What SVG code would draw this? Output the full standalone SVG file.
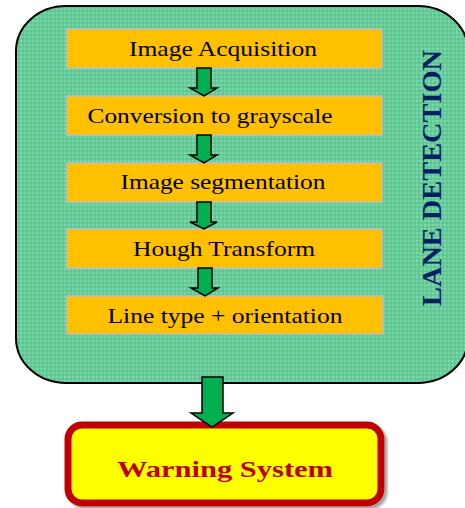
<svg xmlns="http://www.w3.org/2000/svg" width="465" height="508" viewBox="0 0 465 508">
  <defs>
    <!-- fine dotted texture for the lane detection panel -->
    <pattern id="dots" width="4" height="4" patternUnits="userSpaceOnUse">
      <rect width="4" height="4" fill="#66cc99"/>
      <rect x="0" y="0" width="2" height="2" fill="#7ed6a8"/>
      <rect x="2" y="2" width="2" height="2" fill="#5cc491"/>
    </pattern>
    <filter id="shadow" x="-10%" y="-10%" width="120%" height="130%">
      <feDropShadow dx="3" dy="3" stdDeviation="1" flood-color="#808080" flood-opacity="0.7"/>
    </filter>
  </defs>
  <style>
    .step rect { fill: #ffc000; stroke: #c0c0c0; stroke-width: 1.5; }
    .step text { font-family: "Liberation Serif", "Times New Roman", serif; font-size: 21px; fill: #000; text-anchor: middle; }
    .arrow { fill: #00b050; stroke: #000; stroke-width: 1.5; stroke-linejoin: miter; }
  </style>

  <rect width="465" height="508" fill="#ffffff"/>

  <!-- lane detection container -->
  <g id="lane-detection">
    <rect x="16" y="6" width="452" height="377" rx="50" ry="45" fill="url(#dots)" stroke="#000" stroke-width="2"/>
    <text x="441" y="178" transform="rotate(-90 441 178)" text-anchor="middle" font-family="Liberation Serif, Times New Roman, serif" font-weight="bold" font-size="28" fill="#002060" textLength="256" lengthAdjust="spacingAndGlyphs">LANE DETECTION</text>
  </g>

  <!-- processing steps -->
  <g id="step-acquisition" class="step">
    <rect x="67" y="29" width="315" height="39"/>
    <text x="223" y="56" textLength="188" lengthAdjust="spacingAndGlyphs">Image Acquisition</text>
  </g>
  <g id="step-grayscale" class="step">
    <rect x="67" y="96" width="315" height="39"/>
    <text x="210" y="123" textLength="245" lengthAdjust="spacingAndGlyphs">Conversion to grayscale</text>
  </g>
  <g id="step-segmentation" class="step">
    <rect x="67" y="163" width="315" height="39"/>
    <text x="223" y="189" textLength="205" lengthAdjust="spacingAndGlyphs">Image segmentation</text>
  </g>
  <g id="step-hough" class="step">
    <rect x="67" y="229" width="315" height="39"/>
    <text x="224" y="256" textLength="182" lengthAdjust="spacingAndGlyphs">Hough Transform</text>
  </g>
  <g id="step-line-type" class="step">
    <rect x="67" y="296" width="316" height="38"/>
    <text x="225" y="323" textLength="235" lengthAdjust="spacingAndGlyphs">Line type + orientation</text>
  </g>

  <!-- warning system -->
  <g id="warning-system">
    <rect x="68" y="425" width="313" height="78" rx="14" ry="14" fill="#ffff00" stroke="#c00000" stroke-width="7" filter="url(#shadow)"/>
    <text x="225" y="477" text-anchor="middle" font-family="Liberation Serif, Times New Roman, serif" font-weight="bold" font-size="23" fill="#c00000" textLength="216" lengthAdjust="spacingAndGlyphs">Warning System</text>
  </g>

  <!-- connectors: block arrows -->
  <g id="connectors">
    <path class="arrow" d="M197,68 H211 V88 H217 L204,96 L190,88 H197 Z"/>
    <path class="arrow" d="M197,135 H211 V155 H217 L204,163 L190,155 H197 Z"/>
    <path class="arrow" d="M197,202 H211 V222 H217 L204,229 L190,222 H197 Z"/>
    <path class="arrow" d="M198,268 H212 V288 H218 L205,296 L191,288 H198 Z"/>
    <path class="arrow" d="M202,377 H223 V413 H233 L212,427 L191,413 H202 Z"/>
  </g>
</svg>
